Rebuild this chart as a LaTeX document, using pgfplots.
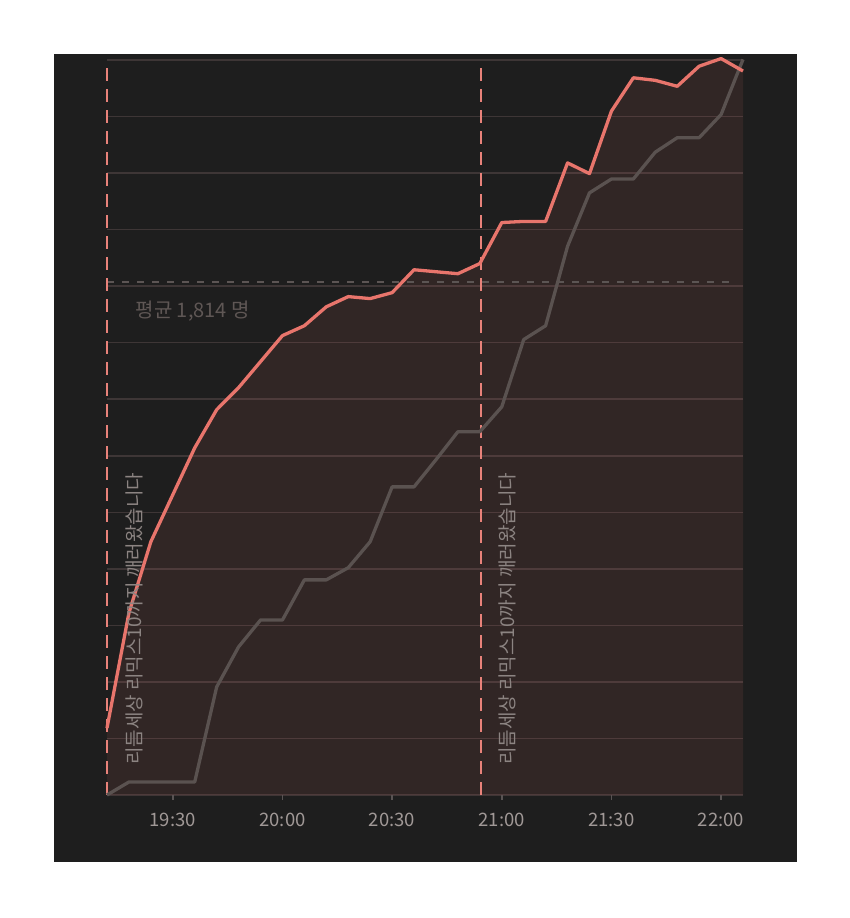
\documentclass[border=0pt]{standalone}
\usepackage{pgfplots}
\pgfplotsset{compat=1.18}
\usepackage{fontspec}
\setmainfont{Noto Sans CJK KR}
\definecolor{panelbg}{RGB}{30,30,30}
\definecolor{redc}{RGB}{232,117,108}
\definecolor{grayc}{RGB}{90,82,80}
\definecolor{gridc}{RGB}{62,54,54}
\definecolor{tickc}{RGB}{90,84,84}
\definecolor{labelc}{RGB}{160,152,150}
\definecolor{rotc}{RGB}{140,132,130}
\definecolor{avgc}{RGB}{92,85,84}
\definecolor{avgtext}{RGB}{95,87,85}
\definecolor{vdashc}{RGB}{232,130,122}

\pgfplotstableread{
t v
1152 237
1158 644
1164 896
1170 1062
1176 1228
1182 1363
1188 1441
1194 1533
1200 1625
1206 1660
1212 1727
1218 1763
1224 1756
1230 1777
1236 1858
1242 1851
1248 1844
1254 1880
1260 2025
1266 2029
1272 2029
1278 2236
1284 2198
1290 2419
1296 2537
1302 2528
1308 2507
1314 2578
1320 2605
1326 2561
}\redtab

\pgfplotstableread{
t v
1152 0
1158 46
1164 46
1170 46
1176 46
1182 382
1188 524
1194 619
1200 619
1206 761
1212 761
1218 804
1224 896
1230 1090
1236 1090
1242 1186
1248 1285
1254 1285
1260 1373
1266 1611
1272 1660
1278 1941
1284 2130
1290 2179
1296 2179
1302 2274
1308 2325
1314 2325
1320 2407
1326 2602
}\graytab

\begin{document}
\begin{tikzpicture}[x=1pt,y=1pt]
\path[use as bounding box, fill=white] (-107,-123) rectangle (743,795);
\fill[panelbg] (-53,-67) rectangle (690,741);
\begin{axis}[
  at={(0pt,0pt)}, anchor=south west,
  scale only axis, width=636pt, height=735pt,
  xmin=1152, xmax=1326, ymin=0, ymax=2600,
  axis line style={draw=none},
  ytick={0,200,...,2600}, yticklabels={},
  ymajorgrids, grid style={gridc, line width=1.5pt},
  ytick style={draw=none},
  xtick={1170,1200,1230,1260,1290,1320},
  xticklabels={19:30,20:00,20:30,21:00,21:30,22:00},
  xtick pos=bottom, tick align=outside, major tick length=5pt,
  xtick style={draw=tickc, line width=1.5pt},
  xticklabel style={font=\fontsize{18.5}{21}\selectfont, text=labelc, yshift=-10pt},
  clip=false,
]
\addplot[draw=none, fill=redc, fill opacity=0.095] table[x=t,y=v] {\redtab} \closedcycle;
\addplot[avgc, line width=1.5pt, dash pattern=on 7pt off 8pt] coordinates {(1152,1814) (1324.3,1814)};
\addplot[vdashc, line width=2pt, dash pattern=on 13pt off 8pt] coordinates {(1152,0) (1152,2600)};
\addplot[vdashc, line width=2pt, dash pattern=on 13pt off 8pt] coordinates {(1254.2,0) (1254.2,2600)};
\addplot[grayc, line width=3.3pt, line join=round] table[x=t,y=v] {\graytab};
\addplot[redc, line width=3.3pt, line join=round] table[x=t,y=v] {\redtab};
\node[anchor=west, inner sep=0pt, text=avgtext, font=\fontsize{20}{23}\selectfont] at (axis cs:1159.8,1712) {평균 1,814 명};
\node[rotate=90, anchor=west, inner sep=0pt, text=rotc, font=\fontsize{19}{22}\selectfont] at (axis cs:1159.5,106) {리듬세상 리믹스10까지 깨러왔습니다};
\node[rotate=90, anchor=west, inner sep=0pt, text=rotc, font=\fontsize{19}{22}\selectfont] at (axis cs:1261.5,106) {리듬세상 리믹스10까지 깨러왔습니다};
\end{axis}
\end{tikzpicture}
\end{document}
